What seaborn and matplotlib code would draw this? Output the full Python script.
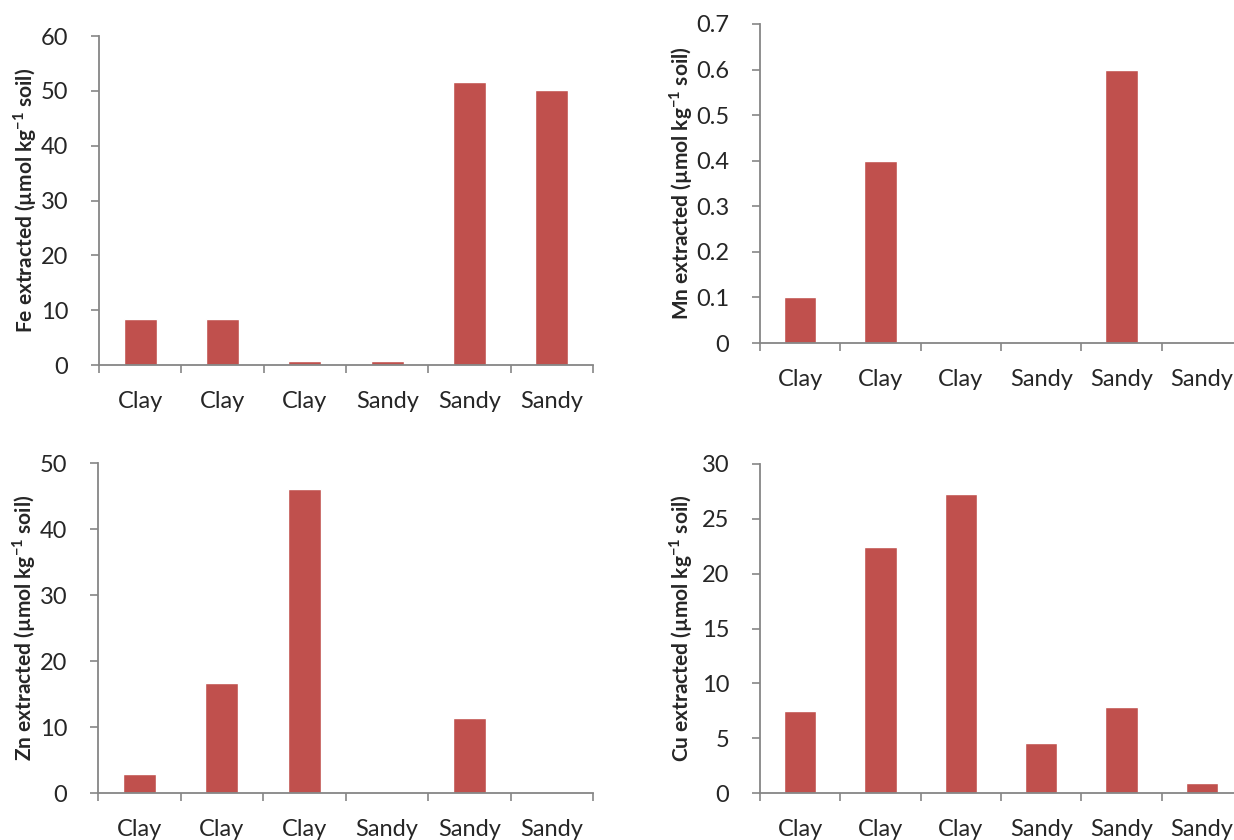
import numpy as np
import pandas as pd
import matplotlib
matplotlib.use('Agg')
import matplotlib.pyplot as plt
import seaborn as sns

# soil type for each of the six samples (same order in every panel)
soils = ['Clay', 'Clay', 'Clay', 'Sandy', 'Sandy', 'Sandy']
samples = ['S1', 'S2', 'S3', 'S4', 'S5', 'S6']

fe_vals = [8.4, 8.3, 0.7, 0.8, 51.7, 50.2]
mn_vals = [0.1, 0.4, 0.0, 0.0, 0.6, 0.0]
zn_vals = [2.9, 16.6, 46.0, 0.0, 11.3, 0.0]
cu_vals = [7.5, 22.4, 27.3, 4.6, 7.8, 0.9]

fe_ticks = [0, 10, 20, 30, 40, 50, 60]
mn_ticks = [0, 0.1, 0.2, 0.3, 0.4, 0.5, 0.6, 0.7]
mn_labels = ['0', '0.1', '0.2', '0.3', '0.4', '0.5', '0.6', '0.7']
zn_ticks = [0, 10, 20, 30, 40, 50]
cu_ticks = [0, 5, 10, 15, 20, 25, 30]

sns.set_style('white')
plt.rcParams['font.family'] = ['Lato', 'DejaVu Sans']
plt.rcParams['mathtext.fontset'] = 'custom'
plt.rcParams['mathtext.rm'] = 'Lato'
plt.rcParams['mathtext.bf'] = 'Lato:bold'

bar_color = '#C0504D'
axis_color = '#868686'

fig = plt.figure(figsize=(12.34, 8.4), dpi=100)

# axes rectangles in pixels: left, top, right, bottom
boxes = [
    (99, 36, 593, 365),
    (760, 24, 1242, 343),
    (98, 463, 593, 793),
    (760, 464, 1242, 793),
]
panels = [
    ('Fe', fe_vals, fe_ticks, [str(t) for t in fe_ticks]),
    ('Mn', mn_vals, mn_ticks, mn_labels),
    ('Zn', zn_vals, zn_ticks, [str(t) for t in zn_ticks]),
    ('Cu', cu_vals, cu_ticks, [str(t) for t in cu_ticks]),
]
label_x = [-0.121, -0.135, -0.121, -0.135]

W, H = 1234, 840
for (l, t, r, b), (el, vals, ticks, tlabels), lx in zip(boxes, panels, label_x):
    ax = fig.add_axes([l / W, 1 - b / H, (r - l) / W, (b - t) / H])
    df = pd.DataFrame({'sample': samples, 'value': vals})
    sns.barplot(data=df, x='sample', y='value', color=bar_color,
                width=0.4, saturation=1, ax=ax)
    ax.set_xlim(-0.5, 5.5)
    ax.set_ylim(ticks[0], ticks[-1])
    ax.set_yticks(ticks)
    ax.set_yticklabels(tlabels)
    # tick marks between categories, labels centred on them
    ax.set_xticks(np.arange(-0.5, 6, 1))
    ax.set_xticklabels([''] * 7)
    ax.set_xticks(range(6), minor=True)
    ax.set_xticklabels(soils, minor=True)
    ax.tick_params(axis='x', which='major', length=6, width=1.2,
                   color=axis_color, direction='out', bottom=True)
    ax.tick_params(axis='x', which='minor', length=0, pad=19, labelsize=17)
    ax.tick_params(axis='y', length=6, width=1.2, color=axis_color,
                   direction='out', left=True, pad=16, labelsize=17)
    for s in ['top', 'right']:
        ax.spines[s].set_visible(False)
    for s in ['left', 'bottom']:
        ax.spines[s].set_color(axis_color)
        ax.spines[s].set_linewidth(1.3)
    ax.set_xlabel('')
    ax.set_ylabel(el + r' extracted (µmol kg$^{\mathbf{-1}}$ soil)',
                  fontsize=15, fontweight='bold')
    ax.yaxis.set_label_coords(lx, 0.5)

fig.savefig('out.png', dpi=100)
